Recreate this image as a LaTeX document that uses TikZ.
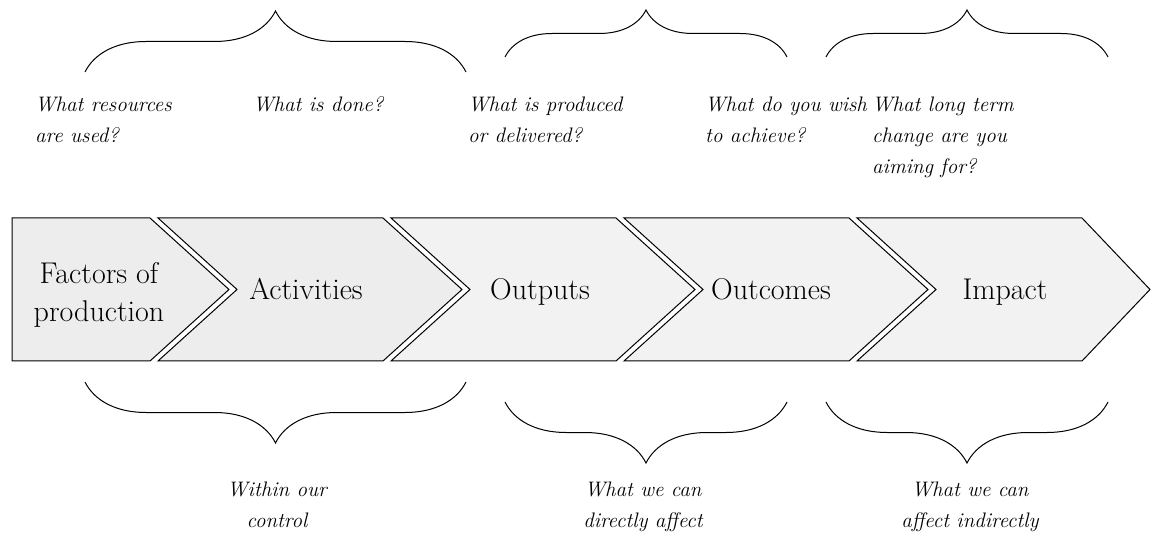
\documentclass[tikz,border=0pt]{standalone}
\usetikzlibrary{decorations.pathreplacing}

\tikzset{
  chev/.style={draw=black, line width=1pt, line join=miter},
  stage/.style={font=\fontsize{30}{38}\selectfont, align=center, inner sep=0pt},
  ask/.style={font=\fontsize{21}{31}\selectfont\itshape, align=left, anchor=base west, inner sep=0pt},
  tell/.style={font=\fontsize{21}{31}\selectfont\itshape, align=center, anchor=base, inner sep=0pt},
  curly/.style={decorate, decoration={brace, amplitude=61pt}, line width=1pt},
}

\begin{document}
\begin{tikzpicture}[x=1pt, y=-1pt]
\def\ytop{218}
\def\ybot{361}
\def\ymid{289.5}
\def\tip{79}

\useasboundingbox (0,0) rectangle (1151,534);

% first block, straight left side
\filldraw[chev, fill=black!7] (12,\ytop) -- (150,\ytop) -- (150+\tip,\ymid) -- (150,\ybot) -- (12,\ybot) -- cycle;

% notched blocks
\foreach \l/\r/\shade in {158/383/7, 391/616/5, 624/849/5} {
  \filldraw[chev, fill=black!\shade] (\l,\ytop) -- (\r,\ytop) -- (\r+\tip,\ymid) -- (\r,\ybot) -- (\l,\ybot) -- (\l+\tip,\ymid) -- cycle;
}

% last block, shorter point
\filldraw[chev, fill=black!5] (857,\ytop) -- (1082,\ytop) -- (1150,\ymid) -- (1082,\ybot) -- (857,\ybot) -- (857+\tip,\ymid) -- cycle;

\node[stage] (factors) at (99,294.5) {Factors of\\production};
\node[stage, anchor=base] (activities) at (306,300) {Activities};
\node[stage, anchor=base] (outputs) at (540,300) {Outputs};
\node[stage, anchor=base] (outcomes) at (771,300) {Outcomes};
\node[stage, anchor=base] (impact) at (1005,300) {Impact};

% questions above (base = last line)
\draw[curly] (85,72) -- (466,72);
\draw[curly, decoration={amplitude=47pt}] (505,57) -- (787,57);
\draw[curly, decoration={amplitude=47pt}] (826,57) -- (1108,57);

\node[ask] (qres) at (35,143) {What resources\\are used?};
\node[ask] (qdone) at (253,112) {What is done?};
\node[ask] (qprod) at (468,143) {What is produced\\or delivered?};
\node[ask] (qwish) at (705,143) {What do you wish\\to achieve?};
\node[ask] (qlong) at (872,174) {What long term\\change are you\\aiming for?};

% reach below
\draw[curly] (466,382) -- (85,382);
\draw[curly] (787,402) -- (505,402);
\draw[curly] (1108,402) -- (826,402);

\node[tell] (actrl) at (277,527) {Within our\\control};
\node[tell] (adirect) at (643,527) {What we can\\directly affect};
\node[tell] (aindirect) at (970,527) {What we can\\affect indirectly};
\end{tikzpicture}
\end{document}
